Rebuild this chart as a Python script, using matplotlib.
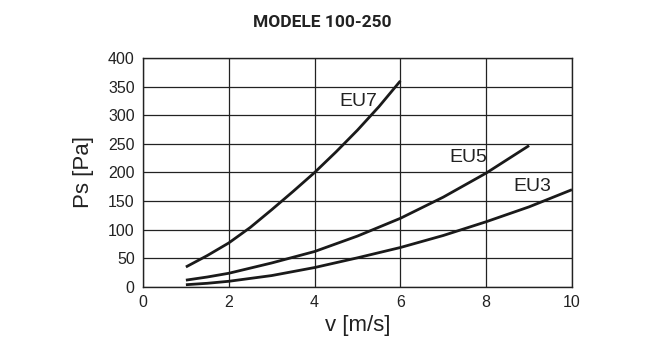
import matplotlib
matplotlib.use("Agg")
import matplotlib.pyplot as plt

# Data
eu7_v = [1.0, 1.5, 2.0, 2.5, 3.0, 3.5, 4.0, 4.5, 5.0, 5.5, 6.0]
eu7_p = [35, 55, 77, 104, 135, 167, 200, 236, 274, 315, 360]
eu5_v = [1, 1.5, 2, 3, 4, 5, 6, 7, 8, 9]
eu5_p = [12, 17.5, 24, 42, 62, 89, 120, 157, 199, 247]
eu3_v = [1, 1.5, 2, 3, 4, 5, 6, 7, 8, 9, 10]
eu3_p = [4, 6.5, 10, 20, 34, 51, 69, 90, 114, 140, 170]
series_labels = ["EU7", "EU5", "EU3"]
label_pos = [(4.58, 324), (7.14, 227), (8.63, 175)]
x_ticks = [0, 2, 4, 6, 8, 10]
y_ticks = [0, 50, 100, 150, 200, 250, 300, 350, 400]

plt.rcParams['font.family'] = ['Liberation Sans', 'DejaVu Sans']

fig = plt.figure(figsize=(6.45, 3.64), dpi=100)
ax = fig.add_axes([0.2217, 0.2115, 0.6651, 0.6292])

for v, p in [(eu7_v, eu7_p), (eu5_v, eu5_p), (eu3_v, eu3_p)]:
    ax.plot(v, p, color='#1a1a1a', lw=2.0, solid_capstyle='butt',
            solid_joinstyle='round')

for lab, (x, y) in zip(series_labels, label_pos):
    ax.text(x, y, lab, fontsize=14, ha='left', va='center', color='#222222')

ax.set_xlim(0, 10)
ax.set_ylim(0, 400)
ax.set_xticks(x_ticks)
ax.set_yticks(y_ticks)
ax.tick_params(length=0, labelsize=11.5, labelcolor='#222222', pad=6)
ax.grid(True, color='#222222', lw=0.9)
for s in ax.spines.values():
    s.set_color('#222222')
    s.set_linewidth(1.0)

ax.set_xlabel("v [m/s]", fontsize=16, color='#222222', labelpad=3)
ax.set_ylabel("Ps [Pa]", fontsize=16, color='#222222', labelpad=10)

fig.text(0.5, 0.938, "MODELE 100-250", ha='center', va='center',
         fontsize=12.5, fontweight='bold', family=['Roboto', 'DejaVu Sans'],
         color='#222222')

fig.savefig("out.png", dpi=100)
